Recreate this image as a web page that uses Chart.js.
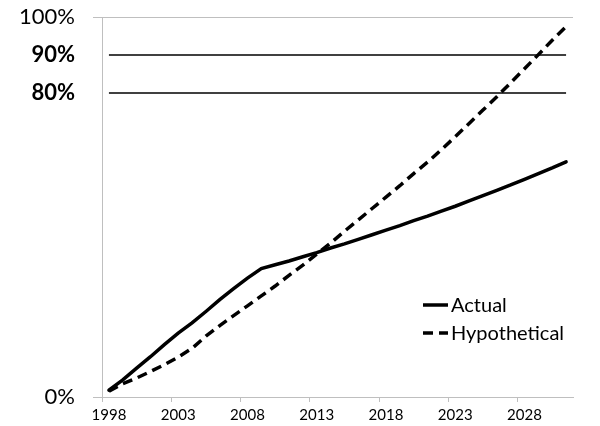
<!DOCTYPE html>
<html>
<head>
<meta charset="utf-8">
<script src="https://cdn.jsdelivr.net/npm/chart.js@4.4.0/dist/chart.umd.min.js"></script>
<style>
  html, body { margin: 0; padding: 0; background: #fff; overflow: hidden; }
  #wrap { width: 600px; height: 426px; }
</style>
</head>
<body>
<div id="wrap"><canvas id="chart"></canvas></div>
<script>
const years = ['1998', '1999', '2000', '2001', '2002', '2003', '2004', '2005', '2006', '2007',
               '2008', '2009', '2010', '2011', '2012', '2013', '2014', '2015', '2016', '2017',
               '2018', '2019', '2020', '2021', '2022', '2023', '2024', '2025', '2026', '2027',
               '2028', '2029', '2030', '2031'];

const actual = [0.018, 0.045, 0.076, 0.106, 0.138, 0.168, 0.195, 0.225, 0.256, 0.285,
                0.313, 0.338, 0.348, 0.358, 0.369, 0.380, 0.392, 0.403, 0.415, 0.427,
                0.439, 0.451, 0.464, 0.476, 0.489, 0.502, 0.516, 0.530, 0.544, 0.558,
                0.573, 0.588, 0.603, 0.619];

const hypothetical = [0.015, 0.035, 0.050, 0.067, 0.085, 0.105, 0.128, 0.160, 0.188, 0.214,
                      0.240, 0.266, 0.292, 0.320, 0.347, 0.376, 0.405, 0.436, 0.466, 0.496,
                      0.526, 0.556, 0.588, 0.618, 0.651, 0.685, 0.720, 0.755, 0.790, 0.827,
                      0.864, 0.901, 0.939, 0.975];

// horizontal reference levels
const levels = [0.9, 0.8];

const yTicks = [0, 0.8, 0.9, 1];
const yTickLabels = ['0%', '80%', '90%', '100%'];
const boldTicks = [0.8, 0.9];
const xLabelStep = 5;

const FONT = 'Lato, "Open Sans", sans-serif';
const AXIS_GRAY = '#bfbfbf';

// legend drawn inside the plot, bottom right
const innerLegend = {
    id: 'innerLegend',
    afterDraw(chart) {
        const ctx = chart.ctx;
        const x0 = 423, x1 = 448, tx = 451;
        const rows = [305, 333];
        chart.data.datasets.filter(ds => ds.showInLegend).forEach((ds, i) => {
            const y = rows[i];
            ctx.save();
            ctx.strokeStyle = ds.borderColor;
            ctx.lineWidth = ds.borderWidth;
            ctx.setLineDash(ds.borderDash || []);
            ctx.beginPath();
            ctx.moveTo(x0, y);
            ctx.lineTo(x1, y);
            ctx.stroke();
            ctx.setLineDash([]);
            ctx.fillStyle = '#000';
            ctx.font = '20px ' + FONT;
            ctx.textBaseline = 'middle';
            ctx.fillText(ds.label, tx, y + 1);
            ctx.restore();
        });
    }
};

const datasets = [
    {
        label: 'Actual',
        data: actual,
        borderColor: '#000',
        borderWidth: 3.5,
        borderCapStyle: 'round',
        showInLegend: true
    },
    {
        label: 'Hypothetical',
        data: hypothetical,
        borderColor: '#000',
        borderWidth: 3.5,
        borderDash: [10, 6],
        showInLegend: true
    }
];

levels.forEach(level => {
    datasets.push({
        label: (level * 100) + '%',
        data: years.map(() => level),
        borderColor: '#000',
        borderWidth: 1.5,
        showInLegend: false
    });
});

new Chart(document.getElementById('chart'), {
    type: 'line',
    data: { labels: years, datasets: datasets },
    options: {
        responsive: true,
        maintainAspectRatio: false,
        animation: false,
        layout: { padding: { top: 17, right: 27, left: 0, bottom: 0 } },
        elements: {
            point: { radius: 0 },
            line: { tension: 0, fill: false }
        },
        plugins: {
            legend: { display: false },
            tooltip: { enabled: false }
        },
        scales: {
            x: {
                type: 'category',
                offset: true,
                border: { color: AXIS_GRAY, width: 1 },
                grid: {
                    offset: true,
                    drawOnChartArea: false,
                    tickLength: 5,
                    color: c => (c.index % xLabelStep === 0 ? AXIS_GRAY : 'rgba(0,0,0,0)')
                },
                ticks: {
                    autoSkip: false,
                    maxRotation: 0,
                    padding: 4,
                    color: '#000',
                    font: { family: FONT, size: 15 },
                    callback: (val, i) => (i % xLabelStep === 0 ? years[i] : '')
                },
                afterFit: scale => {
                    scale.height = 29;
                    scale.paddingLeft = 0;
                    scale.paddingRight = 0;
                }
            },
            y: {
                min: 0,
                max: 1,
                border: { color: AXIS_GRAY, width: 1 },
                grid: {
                    tickLength: 9,
                    color: c => (c.tick && (c.tick.value === 0 || c.tick.value === 1) ? AXIS_GRAY : 'rgba(0,0,0,0)')
                },
                afterBuildTicks: scale => {
                    scale.ticks = yTicks.map(v => ({ value: v }));
                },
                ticks: {
                    padding: 18,
                    color: '#000',
                    font: c => ({
                        family: FONT,
                        size: 22,
                        weight: c.tick && boldTicks.includes(c.tick.value) ? 'bold' : 'normal'
                    }),
                    callback: val => yTickLabels[yTicks.indexOf(val)]
                },
                afterFit: scale => {
                    scale.width = 102;
                    scale.paddingTop = 0;
                    scale.paddingBottom = 0;
                }
            }
        }
    },
    plugins: [innerLegend]
});
</script>
</body>
</html>
